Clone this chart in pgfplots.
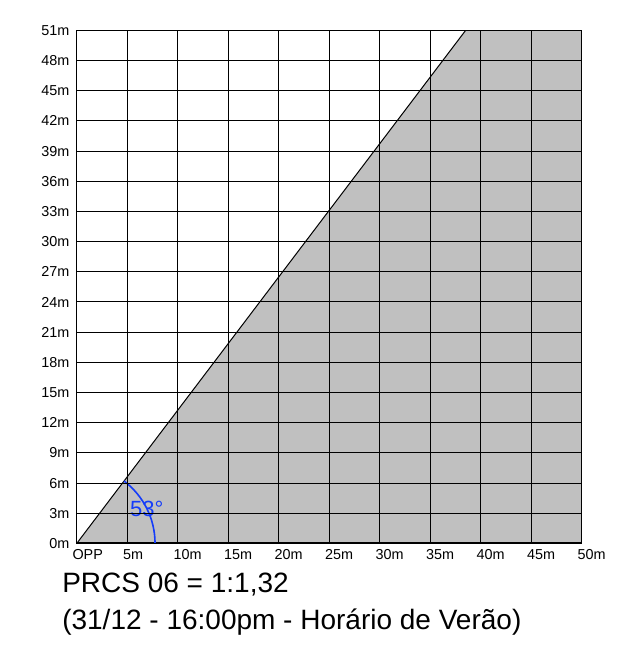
\documentclass[border=0pt]{standalone}
\usepackage{pgfplots}
\pgfplotsset{compat=1.18}
\usepackage{fontspec}
\setmainfont{Liberation Sans}
\definecolor{shade}{RGB}{192,192,192}
\definecolor{angblue}{RGB}{20,60,250}
\begin{document}
\begin{tikzpicture}[x=0.75pt,y=0.75pt]
\path[use as bounding box] (0,0) rectangle (618,645);
\begin{axis}[at={(76,101)}, anchor=south west, scale only axis,
  width=378.75pt, height=384.75pt,
  xmin=0, xmax=50, ymin=0, ymax=51,
  xtick={0,5,...,50},
  xticklabels={OPP,5m,10m,15m,20m,25m,30m,35m,40m,45m,50m},
  ytick={0,3,...,51},
  yticklabels={0m,3m,6m,9m,12m,15m,18m,21m,24m,27m,30m,33m,36m,39m,42m,45m,48m,51m},
  grid=major, major grid style={black, line width=0.75pt},
  major tick length=0pt,
  axis on top,
  axis line style={black, line width=0.75pt},
  tick label style={font=\fontsize{10.8}{12}\selectfont},
  xticklabel style={anchor=north west, xshift=-6.7pt, yshift=-1pt},
  yticklabel style={anchor=east, xshift=-2pt},
  clip=false]
\addplot[fill=shade, draw=none] coordinates {(0,0) (38.5,51) (50,51) (50,0)} -- cycle;
\addplot[black, line width=0.75pt] coordinates {(0,0) (38.5,51)};
\draw[black, line width=1.6pt] (axis cs:0,0) -- (axis cs:50,0);
\draw[angblue, line width=1.2pt] (axis cs:7.75,0) arc[start angle=0, end angle=52.85, radius=58.7pt];
\node[angblue, font=\fontsize{16.5}{18}\selectfont] at (axis cs:6.93,3.45) {53°};
\end{axis}
\node[anchor=base west, font=\fontsize{21}{25}\selectfont, inner sep=0pt] at (62,52) {PRCS 06 = 1:1,32};
\node[anchor=base west, font=\fontsize{21}{25}\selectfont, inner sep=0pt] at (62,15) {(31/12 - 16:00pm - Horário de Verão)};
\end{tikzpicture}
\end{document}
